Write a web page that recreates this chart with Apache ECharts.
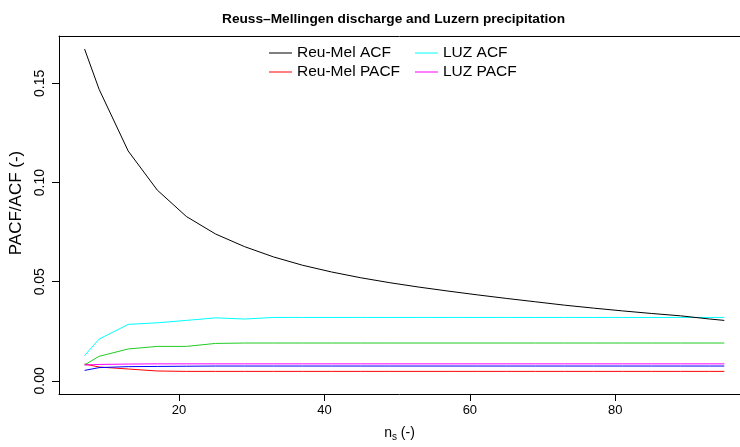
<!DOCTYPE html>
<html>
<head>
<meta charset="utf-8">
<script src="https://cdn.jsdelivr.net/npm/echarts@6/dist/echarts.min.js"></script>
<style>
  html, body { margin: 0; padding: 0; background: #fff; }
  #chart { width: 740px; height: 447px; }
</style>
</head>
<body>
<div id="chart"></div>
<script>
// n_s values along the x axis
const nsValues = [7, 9, 13, 17, 21, 25, 29, 33, 37, 41, 45, 49, 53, 57, 61, 65, 69, 73, 77, 81, 85, 89, 93, 95]

const reuMelAcf = [0.1673, 0.1470, 0.1159, 0.0962, 0.0829, 0.0741, 0.0677, 0.0625, 0.0583, 0.0549, 0.0520, 0.0495,
  0.0473, 0.0453, 0.0434, 0.0416, 0.0399, 0.0382, 0.0367, 0.0353, 0.0340, 0.0328, 0.0312, 0.0305]
const reuMelPacf = [0.0085, 0.0070, 0.0060, 0.0050, 0.0048, 0.0048, 0.0048, 0.0048, 0.0048, 0.0048, 0.0048, 0.0048,
  0.0048, 0.0048, 0.0048, 0.0048, 0.0048, 0.0048, 0.0048, 0.0048, 0.0048, 0.0048, 0.0048, 0.0048]
const luzAcf = [0.0128, 0.0211, 0.0285, 0.0293, 0.0305, 0.0318, 0.0312, 0.0320, 0.0320, 0.0320, 0.0320, 0.0320,
  0.0320, 0.0320, 0.0320, 0.0320, 0.0320, 0.0320, 0.0320, 0.0320, 0.0320, 0.0320, 0.0320, 0.0320]
const luzPacf = [0.0080, 0.0083, 0.0085, 0.0086, 0.0086, 0.0086, 0.0086, 0.0086, 0.0086, 0.0086, 0.0086, 0.0086,
  0.0086, 0.0086, 0.0086, 0.0086, 0.0086, 0.0086, 0.0086, 0.0086, 0.0086, 0.0086, 0.0086, 0.0086]
// two unlabelled curves (green, blue)
const greenCurve = [0.0081, 0.0124, 0.0161, 0.0174, 0.0174, 0.0189, 0.0191, 0.0191, 0.0191, 0.0191, 0.0191, 0.0191,
  0.0191, 0.0191, 0.0191, 0.0191, 0.0191, 0.0191, 0.0191, 0.0191, 0.0191, 0.0191, 0.0191, 0.0191]
const blueCurve = [0.0053, 0.0067, 0.0072, 0.0073, 0.0074, 0.0075, 0.0075, 0.0075, 0.0075, 0.0075, 0.0075, 0.0075,
  0.0075, 0.0075, 0.0075, 0.0075, 0.0075, 0.0075, 0.0075, 0.0075, 0.0075, 0.0075, 0.0075, 0.0075]

const xTicks = [20, 40, 60, 80]
const yTicks = [0, 0.05, 0.1, 0.15]

const FONT = 'Liberation Sans'

const toPairs = (ys) => nsValues.map((x, i) => [x, ys[i]])

const mkLine = (name, color, ys, z) => ({
  name,
  type: 'line',
  symbol: 'none',
  z,
  lineStyle: { color, width: 1 },
  itemStyle: { color },
  data: toPairs(ys),
})

// legend keys are 1px colour bars, no box (R style)
const legendBase = {
  orient: 'vertical',
  top: 40,
  itemWidth: 23,
  itemHeight: 1,
  itemGap: 3,
  icon: 'rect',
  textStyle: { fontFamily: FONT, fontSize: 15.5, lineHeight: 16, color: '#000' },
}

const chart = echarts.init(document.getElementById('chart'), null, { renderer: 'canvas' })

const option = {
  animation: false,
  backgroundColor: '#fff',
  textStyle: { fontFamily: FONT },
  title: {
    text: 'Reuss\u2013Mellingen discharge and Luzern precipitation',
    left: 217,
    top: 7,
    textStyle: { fontFamily: FONT, fontWeight: 'bold', fontSize: 13.7, color: '#000' },
  },
  legend: [
    { ...legendBase, data: ['Reu-Mel ACF', 'Reu-Mel PACF'], left: 264 },
    { ...legendBase, data: ['LUZ ACF', 'LUZ PACF'], left: 410 },
  ],
  grid: { left: 53, right: 0, top: 36, bottom: 48 },
  xAxis: [
    {
      type: 'value',
      min: 3.48,
      max: 97.16,
      name: '{n|n}{s|s}{n| (-)}',
      nameLocation: 'middle',
      nameGap: 30,
      nameTextStyle: {
        rich: {
          n: { fontFamily: FONT, fontSize: 14, color: '#000' },
          s: { fontFamily: FONT, fontSize: 10, color: '#000', padding: [8, 0, 0, 0] },
        },
      },
      axisLine: { show: true, onZero: false, lineStyle: { color: '#000', width: 1 } },
      axisTick: { show: true, inside: false, length: 7, customValues: xTicks, lineStyle: { color: '#000' } },
      axisLabel: { customValues: xTicks, fontFamily: FONT, fontSize: 13, color: '#000', margin: 10 },
      splitLine: { show: false },
    },
    {
      type: 'value',
      position: 'top',
      min: 3.48,
      max: 97.16,
      axisLine: { show: true, onZero: false, lineStyle: { color: '#000', width: 1 } },
      axisTick: { show: false },
      axisLabel: { show: false },
      splitLine: { show: false },
    },
  ],
  yAxis: {
    type: 'value',
    min: -0.0066,
    max: 0.1739,
    name: 'PACF/ACF (-)',
    nameLocation: 'middle',
    nameGap: 34,
    nameTextStyle: { fontFamily: FONT, fontSize: 17, color: '#000', padding: [0, 0, 0, 24] },
    axisLine: { show: true, onZero: false, lineStyle: { color: '#000', width: 1 } },
    axisTick: { show: true, length: 7, customValues: yTicks, lineStyle: { color: '#000' } },
    axisLabel: {
      customValues: yTicks,
      rotate: 90,
      fontFamily: FONT,
      fontSize: 14,
      color: '#000',
      margin: 12,
      formatter: (v) => v.toFixed(2),
    },
    splitLine: { show: false },
  },
  series: [
    mkLine('Reu-Mel ACF', '#000000', reuMelAcf, 5),
    mkLine('Reu-Mel PACF', '#ff0000', reuMelPacf, 2),
    mkLine('LUZ ACF', '#00ffff', luzAcf, 3),
    mkLine('LUZ PACF', '#ff00ff', luzPacf, 3),
    mkLine('green curve', '#22cc22', greenCurve, 2),
    mkLine('blue curve', '#0000ff', blueCurve, 4),
  ],
}

chart.setOption(option)
</script>
</body>
</html>
